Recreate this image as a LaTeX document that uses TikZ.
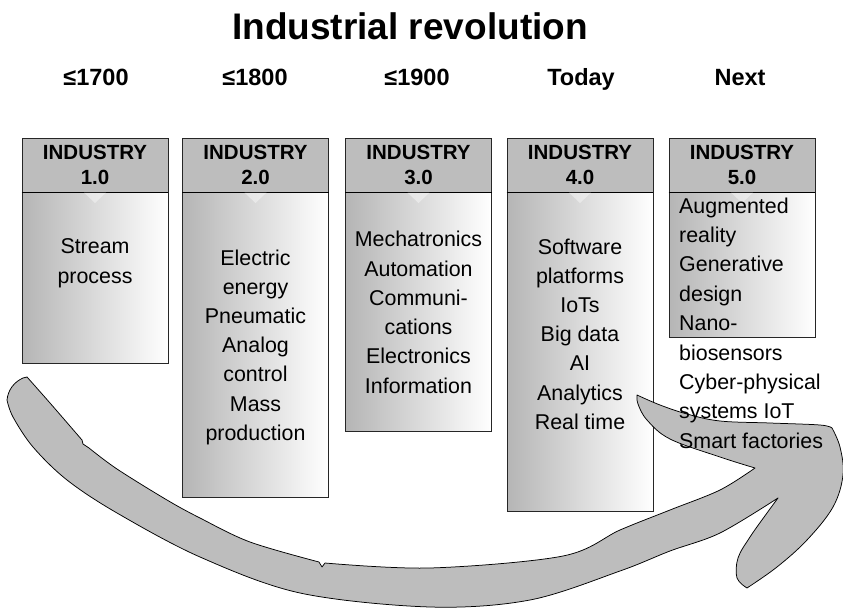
\documentclass[tikz,border=0pt]{standalone}
\usepackage{fontspec}
\setmainfont{Liberation Sans}
\begin{document}
\begin{tikzpicture}[x=1pt,y=-1pt,
  hdrbox/.style={draw=black!85, line width=0.7pt, fill=gray!52, minimum width=146pt,
    minimum height=54pt, inner sep=0pt, align=center,
    font=\bfseries\fontsize{20.5}{25}\selectfont},
  bodybox/.style={draw=black!85, line width=0.7pt, left color=gray!58, right color=white,
    minimum width=146pt, inner sep=0pt, anchor=north},
  bodytext/.style={align=center, inner sep=0pt, anchor=base,
    font=\fontsize{21.4}{29.2}\selectfont},
  period/.style={font=\bfseries\fontsize{23.5}{28}\selectfont, anchor=base},
  pointer/.style={fill=white, fill opacity=0.4, draw=none},
  bigarrow/.style={fill=gray!52, draw=black, line width=0.75pt, line join=round}]
\useasboundingbox (0,0) rectangle (843,609);

% title and periods
\node[font=\bfseries\fontsize{37}{44}\selectfont, anchor=base] (title) at (410,40) {Industrial revolution};
\node[period] (p1) at (96,86) {≤1700};
\node[period] (p2) at (255,86) {≤1800};
\node[period] (p3) at (417,86) {≤1900};
\node[period] (p4) at (581,86) {Today};
\node[period] (p5) at (740,86) {Next};

% columns: header, body, small pointer below the header
\foreach \n/\cx/\h in {1/95/171, 2/255.5/305, 3/418.5/239, 4/580/319, 5/742/145}{
  \node[bodybox, minimum height=\h pt] (b\n) at (\cx,192) {};
  \node[hdrbox] (h\n) at (\cx,165) {INDUSTRY\\\n.0};
  \draw[line width=1.1pt] (h\n.south west) -- (h\n.south east);
  \fill[pointer] (\cx-11,192.6) -- (\cx+11,192.6) -- (\cx,203) -- cycle;
}

% texts are anchored at the baseline of their last line
\node[bodytext] (t1) at (95,283.2) {Stream\\process};
\node[bodytext] (t2) at (255.5,440.2) {Electric\\energy\\Pneumatic\\Analog\\control\\Mass\\production};
\node[bodytext] (t3) at (418.5,393) {Mechatronics\\Automation\\Communi-\\cations\\Electronics\\Information};
\node[bodytext] (t4) at (580,429.2) {Software\\platforms\\IoTs\\Big data\\AI\\Analytics\\Real time};

% sweeping arrow from the first to the last column
\path[bigarrow]
  (7,400)
  -- plot[smooth, tension=0.55] coordinates {(7,400) (13,417) (33,447) (67,480) (117,513) (200,557) (300,593) (430,607) (530,600) (620,571) (670,551) (720,533) (778,498)}
  -- plot[smooth, tension=0.6] coordinates {(778,498) (767,513) (750,537) (738,558) (737,578) (747,588)}
  -- plot[smooth, tension=0.6] coordinates {(747,588) (777,567) (807,540) (833,507) (843,475) (840,447) (832,428)}
  -- plot[smooth, tension=0.6] coordinates {(832,428) (820,425) (770,423) (720,421) (687,414) (660,405) (637,395)}
  -- plot[smooth, tension=0.6] coordinates {(637,395) (638,404) (647,420) (670,439) (720,457) (755,468)}
  -- plot[smooth, tension=0.55] coordinates {(755,468) (720,490) (670,510) (620,530) (563,556) (430,568) (325,563)}
  -- (322,567) -- (319,562)
  -- plot[smooth, tension=0.55] coordinates {(319,562) (250,542) (200,518) (167,500) (117,469) (89,448)}
  -- (83,444) -- (82,440)
  -- plot[smooth, tension=0.55] coordinates {(82,440) (50,403) (27,377)}
  -- (23,378) .. controls (14,382) and (8,390) .. (7,400) -- cycle;

% last column text runs past its box and over the arrow head
\node[font=\fontsize{21.4}{29.4}\selectfont, align=left, inner sep=0pt, anchor=base west] (t5) at (679,448.2)
  {Augmented\\reality\\Generative\\design\\Nano-\\biosensors\\Cyber-physical\\systems IoT\\Smart factories};
\end{tikzpicture}
\end{document}
